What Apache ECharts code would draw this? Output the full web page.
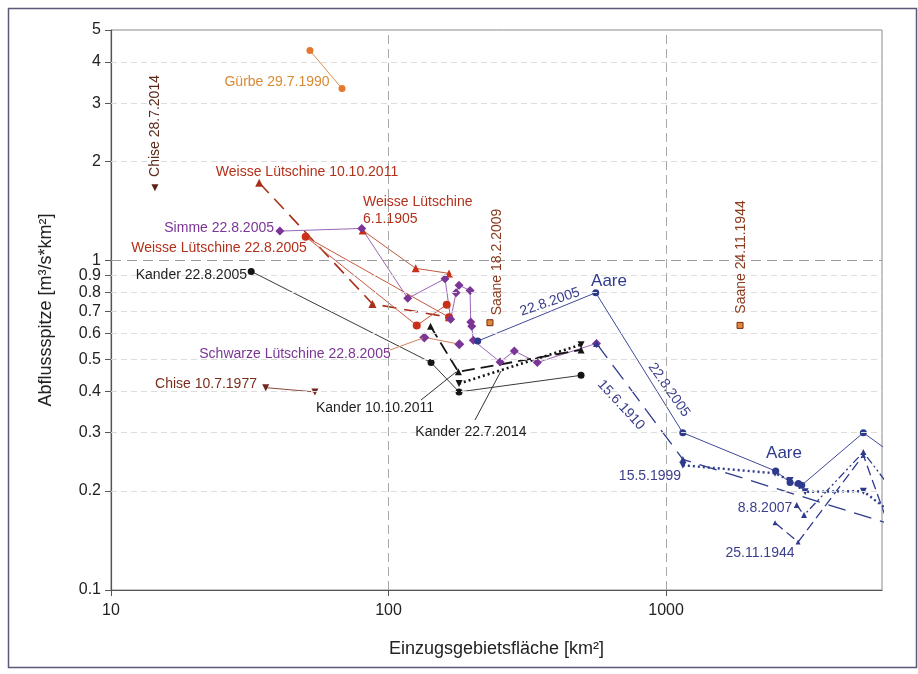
<!DOCTYPE html>
<html>
<head>
<meta charset="utf-8">
<script src="https://cdn.jsdelivr.net/npm/echarts@6/dist/echarts.min.js"></script>
<style>html,body{margin:0;padding:0;background:#fff}#c{width:918px;height:674px}</style>
</head>
<body>
<div id="c"></div>
<script>
// ---- data: [catchment area km2, specific peak discharge m3/s/km2] ----
const xTicks = [10, 100, 1000];
const yTicks = [0.1, 0.2, 0.3, 0.4, 0.5, 0.6, 0.7, 0.8, 0.9, 1, 2, 3, 4, 5];
const gurbe_1990 = [[52.1, 4.33], [68.0, 3.32]];
const chise_2014 = [[14.4, 1.66]];
const chise_1977 = [[36.1, 0.411], [54.3, 0.399]];
const wl_2011 = [[34.2, 1.72], [87.5, 0.738], [165.2, 0.672]];
const wl_2005 = [[162.1, 0.734], [126.4, 0.635], [50.3, 1.18], [165.2, 0.672]];
const wl_1905 = [[80.7, 1.233], [125.3, 0.946], [165.2, 0.913]];
const simme_2005 = [[40.6, 1.227], [80.1, 1.25], [117.3, 0.767], [159.8, 0.88], [167.5, 0.663], [175.1, 0.797], [179.5, 0.840], [196.7, 0.811], [197.8, 0.650], [199.5, 0.631], [202.1, 0.572], [252.3, 0.492], [284, 0.531], [343.7, 0.49], [561.6, 0.56]];
const schwarze_2005 = [[134.6, 0.584], [179.9, 0.557]];
const kander_2005 = [[32.0, 0.926], [142.3, 0.490], [179.5, 0.399], [494, 0.448]];
const kander_2011 = [[141.7, 0.631], [178.5, 0.459], [494, 0.535]];
const kander_2014 = [[179.5, 0.423], [494, 0.555]];
const saane_2009 = [[232, 0.647]];
const saane_1944 = [[1848, 0.635]];
const aare_2005 = [[209.6, 0.569], [558, 0.798], [1149, 0.30], [2485, 0.2295], [2798, 0.212], [2998, 0.2105], [3083, 0.208], [5140, 0.30], [6500, 0.26]];
const aare_1910 = [[561.6, 0.56], [1150, 0.249], [6500, 0.158]];
const aare_1999 = [[1150, 0.239], [2470, 0.226], [2798, 0.215], [3170, 0.1986], [5140, 0.1995], [6500, 0.171]];
const aare_2007 = [[2958, 0.181], [3143, 0.1688], [5140, 0.262], [6500, 0.202]];
const aare_1944 = [[2471, 0.16], [2990, 0.1398], [5140, 0.2565], [6500, 0.148]];

const FONT = '"Liberation Sans", Arial, sans-serif';
const RED = '#B3301A', PURPLE = '#7A3596', BLUE = '#2E3A8C', BROWN = '#6E2A1E';

function ser(name, data, color, opts) {
  opts = opts || {};
  return {
    name: name, type: 'line', data: data, clip: true,
    symbol: opts.symbol || 'circle', symbolSize: opts.size || 7,
    symbolRotate: opts.rotate || 0,
    showSymbol: true,
    lineStyle: { color: opts.lineColor || color, width: opts.width || 1, type: opts.dash || 'solid' },
    itemStyle: { color: color, borderColor: opts.border || color, borderWidth: opts.borderWidth || 0 },
    z: opts.z || 3, silent: true
  };
}

const gridLines = [];
yTicks.forEach(v => {
  if (v === 0.1 || v === 5) return;
  gridLines.push({ yAxis: v, lineStyle: v === 1 ? { color: '#9a9a9a', type: [10, 6], width: 1 } : { color: '#dcdcdc', type: [6, 4], width: 1 } });
});
[100, 1000].forEach(v => gridLines.push({ xAxis: v, lineStyle: { color: '#a8a8a8', type: [9, 5], width: 1 } }));

const series = [
  { name: 'grid', type: 'line', data: [], silent: true, z: 1,
    markLine: { silent: true, symbol: 'none', label: { show: false }, animation: false, data: gridLines } },
  ser('Gürbe 29.7.1990', gurbe_1990, '#E5782C', { lineColor: '#D9904E' }),
  ser('Chise 28.7.2014', chise_2014, '#5A2318', { symbol: 'triangle', rotate: 180, size: 7 }),
  ser('Chise 10.7.1977', chise_1977, BROWN, { symbol: 'triangle', rotate: 180, size: 7, lineColor: '#8A4A3A' }),
  ser('Weisse Lütschine 10.10.2011', wl_2011, '#A8301A', { symbol: 'triangle', size: 8, dash: [14, 8], width: 1.6 }),
  ser('Weisse Lütschine 22.8.2005', wl_2005, '#C8301A', { lineColor: '#C8583C', size: 8 }),
  ser('Weisse Lütschine 6.1.1905', wl_1905, '#C8301A', { symbol: 'triangle', size: 8, lineColor: '#C05A40' }),
  ser('Simme 22.8.2005', simme_2005, PURPLE, { symbol: 'diamond', size: 9, lineColor: '#9A66B5' }),
  ser('Schwarze Lütschine 22.8.2005', schwarze_2005, PURPLE, { symbol: 'diamond', size: 10, lineColor: '#D4805E' }),
  ser('Kander 22.8.2005', kander_2005, '#151515', { lineColor: '#3a3a3a', size: 7 }),
  ser('Kander 10.10.2011', kander_2011, '#151515', { symbol: 'triangle', size: 7, dash: [13, 6], width: 1.8 }),
  ser('Kander 22.7.2014', kander_2014, '#151515', { symbol: 'triangle', rotate: 180, size: 7, dash: [2, 3], width: 2.6 }),
  ser('Saane 18.2.2009', saane_2009, '#E0883A', { symbol: 'rect', size: 6, border: '#7A2A10', borderWidth: 1 }),
  ser('Saane 24.11.1944', saane_1944, '#E0883A', { symbol: 'rect', size: 6, border: '#7A2A10', borderWidth: 1 }),
  ser('Aare 22.8.2005', aare_2005, BLUE, { size: 7, lineColor: '#3F4A98' }),
  ser('Aare 15.6.1910', aare_1910, BLUE, { symbol: 'triangle', size: 7, dash: [18, 9], width: 1.3 }),
  ser('Aare 15.5.1999', aare_1999, BLUE, { symbol: 'triangle', rotate: 180, size: 7, dash: [2, 3], width: 2.4 }),
  ser('Aare 8.8.2007', aare_2007, BLUE, { symbol: 'triangle', size: 6, dash: [8, 3, 2, 3, 2, 3], width: 1.3 }),
  ser('Aare 25.11.1944', aare_1944, BLUE, { symbol: 'triangle', size: 5, dash: [10, 5], width: 1.3 })
];

function txt(text, x, y, color, opts) {
  opts = opts || {};
  return {
    type: 'text', x: x, y: y, rotation: (opts.rot || 0) * Math.PI / 180, z: 100, silent: true,
    style: { text: text, fill: color, fontSize: opts.size || 14, fontFamily: FONT,
      align: opts.align || 'center', verticalAlign: 'middle', lineHeight: opts.lh || 16 }
  };
}
function lead(x1, y1, x2, y2, color) {
  return { type: 'line', z: 100, silent: true, shape: { x1: x1, y1: y1, x2: x2, y2: y2 }, style: { stroke: color, lineWidth: 1 } };
}

const graphics = [
  { type: 'rect', z: 0, silent: true, shape: { x: 8.5, y: 8.5, width: 908, height: 659 }, style: { fill: 'none', stroke: '#5a5a78', lineWidth: 1.5 } },
  txt('Gürbe 29.7.1990', 277, 82, '#D98A35'),
  txt('Chise 28.7.2014', 155, 126, '#5C2A1A', { rot: 90 }),
  txt('Weisse Lütschine 10.10.2011', 307, 172, RED),
  txt('Weisse Lütschine\n6.1.1905', 363, 211, RED, { align: 'left', lh: 17 }),
  txt('Simme 22.8.2005', 274, 228, PURPLE, { align: 'right' }),
  txt('Weisse Lütschine 22.8.2005', 219, 248, RED),
  txt('Kander 22.8.2005', 247, 275, '#1e1e1e', { align: 'right' }),
  txt('Schwarze Lütschine 22.8.2005', 295, 354, PURPLE),
  txt('Chise 10.7.1977', 206, 384, '#7A2D1E'),
  txt('Kander 10.10.2011', 375, 408, '#1e1e1e'),
  txt('Kander 22.7.2014', 471, 432, '#1e1e1e'),
  txt('Saane 18.2.2009', 497, 262, '#8A3A1C', { rot: 90 }),
  txt('Saane 24.11.1944', 741, 257, '#8A3A1C', { rot: 90 }),
  txt('Aare', 609, 281, BLUE, { size: 17 }),
  txt('22.8.2005', 550, 302, '#3B3F8C', { rot: 19 }),
  txt('15.6.1910', 621, 405, '#3B3F8C', { rot: -47 }),
  txt('22.8.2005', 669, 390, '#3B3F8C', { rot: -55 }),
  txt('15.5.1999', 650, 476, '#3B3F8C'),
  txt('Aare', 784, 453, BLUE, { size: 17 }),
  txt('8.8.2007', 765, 508, '#3B3F8C'),
  txt('25.11.1944', 760, 553, '#3B3F8C'),
  lead(390, 350, 423, 338, '#D4805E'),
  lead(421, 400, 456, 372, '#333'),
  lead(475, 420, 501, 371, '#333')
];

const chart = echarts.init(document.getElementById('c'), null, { renderer: 'canvas' });
chart.setOption({
  animation: false,
  backgroundColor: '#fff',
  grid: { left: 111, right: 36, top: 30, bottom: 84, show: true, borderColor: '#8a8a8a', borderWidth: 1, containLabel: false },
  xAxis: {
    type: 'log', logBase: 10, min: 10, max: 6000,
    name: 'Einzugsgebietsfläche [km²]', nameLocation: 'middle', nameGap: 50,
    nameTextStyle: { fontSize: 18, color: '#222', fontFamily: FONT },
    axisLine: { show: true, lineStyle: { color: '#555', width: 1.2 } },
    axisTick: { show: true, length: 6, customValues: xTicks, lineStyle: { color: '#555' } },
    axisLabel: { customValues: xTicks, fontSize: 16, color: '#222', fontFamily: FONT, margin: 13, formatter: v => String(Math.round(v)) },
    splitLine: { show: false }, minorTick: { show: false }
  },
  yAxis: {
    type: 'log', logBase: 10, min: 0.1, max: 5,
    name: 'Abflussspitze [m³/s*km²]', nameLocation: 'middle', nameGap: 56, nameRotate: 90,
    nameTextStyle: { fontSize: 18, color: '#222', fontFamily: FONT },
    axisLine: { show: true, lineStyle: { color: '#555', width: 1.2 } },
    axisTick: { show: true, length: 6, customValues: yTicks, lineStyle: { color: '#555' } },
    axisLabel: { customValues: yTicks, fontSize: 16, color: '#222', fontFamily: FONT, margin: 10, formatter: v => String(+(+v).toPrecision(3)) },
    splitLine: { show: false }, minorTick: { show: false }
  },
  series: series,
  graphic: graphics
});
</script>
</body>
</html>
